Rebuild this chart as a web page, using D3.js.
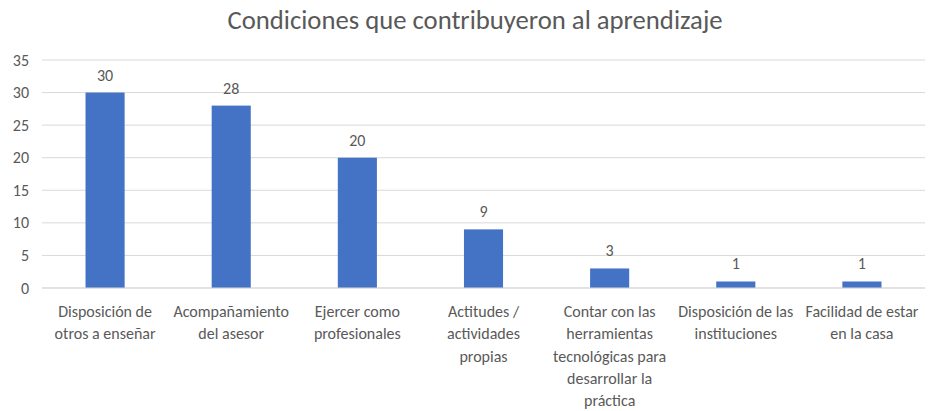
<!DOCTYPE html>
<html>
<head>
<meta charset="utf-8">
<script src="https://cdn.jsdelivr.net/npm/d3@7"></script>
<style>
  body { margin: 0; background: #fff; }
  svg text { font-family: Calibri, Carlito, "Liberation Sans", Arial, sans-serif; fill: #595959; }
</style>
</head>
<body>
<svg id="chart" width="933" height="411"></svg>
<script>
const title = "Condiciones que contribuyeron al aprendizaje";
const categories = [
  ["Disposición de", "otros a enseñar"],
  ["Acompañamiento", "del asesor"],
  ["Ejercer como", "profesionales"],
  ["Actitudes /", "actividades", "propias"],
  ["Contar con las", "herramientas", "tecnológicas para", "desarrollar la", "práctica"],
  ["Disposición de las", "instituciones"],
  ["Facilidad de estar", "en la casa"]
];
const values = [30, 28, 20, 9, 3, 1, 1];
const yTicks = [0, 5, 10, 15, 20, 25, 30, 35];

const width = 933;
const height = 411;
const margin = { top: 60, right: 8, bottom: 123, left: 42 };

const svg = d3.select("#chart");
const chartWidth = width - margin.left - margin.right;
const chartHeight = height - margin.top - margin.bottom;

const g = svg.append("g")
  .attr("transform", `translate(${margin.left},${margin.top})`);

const x = d3.scaleBand()
  .domain(d3.range(values.length))
  .range([0, chartWidth])
  .paddingInner(0.69)
  .paddingOuter(0.345);

const y = d3.scaleLinear()
  .domain([0, 35])
  .range([chartHeight, 0]);

// title
svg.append("text")
  .attr("x", 475)
  .attr("y", 29)
  .attr("text-anchor", "middle")
  .style("font-size", "26.7px")
  .text(title);

// gridlines
g.selectAll(".grid")
  .data(yTicks)
  .join("line")
  .attr("x1", 0)
  .attr("x2", chartWidth)
  .attr("y1", d => y(d))
  .attr("y2", d => y(d))
  .attr("stroke", "#d9d9d9")
  .attr("stroke-width", 1);

// y axis labels
const yAxis = g.append("g")
  .call(d3.axisLeft(y).tickValues(yTicks).tickSize(0).tickPadding(13));
yAxis.select(".domain").remove();
yAxis.selectAll("text")
  .style("font-size", "16px")
  .attr("fill", "#595959");

// bars
g.selectAll(".bar")
  .data(values)
  .join("rect")
  .attr("x", (d, i) => x(i))
  .attr("y", d => y(d))
  .attr("width", x.bandwidth())
  .attr("height", d => chartHeight - y(d))
  .attr("fill", "#4472c4");

// value labels
g.selectAll(".val")
  .data(values)
  .join("text")
  .attr("x", (d, i) => x(i) + x.bandwidth() / 2)
  .attr("y", d => y(d) - 12)
  .attr("text-anchor", "middle")
  .style("font-size", "16px")
  .text(d => d);

// baseline
g.append("line")
  .attr("x1", 0)
  .attr("x2", chartWidth)
  .attr("y1", chartHeight)
  .attr("y2", chartHeight)
  .attr("stroke", "#d9d9d9");

// category labels
g.selectAll(".cat")
  .data(categories)
  .join("text")
  .attr("text-anchor", "middle")
  .attr("transform", (d, i) => `translate(${x(i) + x.bandwidth() / 2},${chartHeight + 29})`)
  .style("font-size", "16px")
  .each(function (lines) {
    d3.select(this).selectAll("tspan")
      .data(lines)
      .join("tspan")
      .attr("x", 0)
      .attr("dy", (d, j) => j === 0 ? 0 : 22.3)
      .text(d => d);
  });
</script>
</body>
</html>
